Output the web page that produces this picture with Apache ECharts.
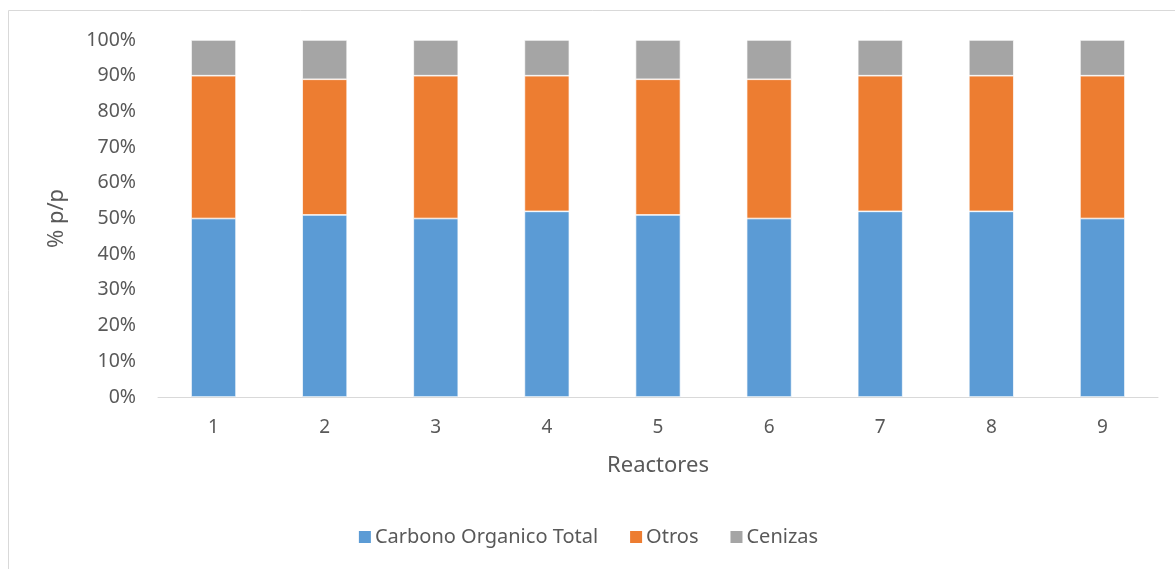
<!DOCTYPE html>
<html>
<head>
<meta charset="utf-8">
<script src="https://cdn.jsdelivr.net/npm/echarts@6/dist/echarts.min.js"></script>
<style>
html,body{margin:0;padding:0;background:#fff;}
#chart{width:1175px;height:569px;}
</style>
</head>
<body>
<div id="chart"></div>
<script>
const categories = ['1','2','3','4','5','6','7','8','9'];
const carbono = [50, 51, 50, 52, 51, 50, 52, 52, 50];
const otros = [40, 38, 40, 38, 38, 39, 38, 38, 40];
const cenizas = [10, 11, 10, 10, 11, 11, 10, 10, 10];
const seriesNames = ['Carbono Organico Total', 'Otros', 'Cenizas'];
const colors = ['#5b9bd5', '#ed7d31', '#a5a5a5'];

const FONT = 'Noto Sans';
const chart = echarts.init(document.getElementById('chart'));
const mk = (name, data, color) => ({
  name, type: 'bar', stack: 'total', data, barWidth: 45,
  itemStyle: { color, borderColor: '#ffffff', borderWidth: 0.7 },
  emphasis: { disabled: true }
});
chart.setOption({
  animation: false,
  textStyle: { fontFamily: FONT },
  graphic: [{
    type: 'rect', silent: true,
    shape: { x: 8.5, y: 10.5, width: 1300, height: 700 },
    style: { fill: 'none', stroke: '#d9d9d9', lineWidth: 1 }
  }],
  grid: { left: 158, right: 17, top: 40, bottom: 172 },
  legend: {
    bottom: 17, left: 'center', itemWidth: 14, itemHeight: 14, itemGap: 30,
    icon: 'rect',
    textStyle: { fontFamily: FONT, fontSize: 20, color: '#595959', padding: [0,0,0,-2] },
    data: seriesNames
  },
  xAxis: {
    type: 'category', data: categories,
    name: 'Reactores', nameLocation: 'middle', nameGap: 58,
    nameTextStyle: { fontFamily: FONT, fontSize: 22, color: '#595959' },
    axisLine: { lineStyle: { color: '#d9d9d9', width: 1 } },
    axisTick: { show: false },
    axisLabel: { fontFamily: FONT, fontSize: 19, color: '#595959', margin: 21 }
  },
  yAxis: {
    type: 'value', min: 0, max: 100, interval: 10,
    name: '% p/p', nameLocation: 'middle', nameGap: 90, nameRotate: 90,
    nameTextStyle: { fontFamily: FONT, fontSize: 22, color: '#595959' },
    axisLine: { show: false }, axisTick: { show: false },
    splitLine: { show: false },
    axisLabel: { fontFamily: FONT, fontSize: 19.5, color: '#595959', margin: 22, formatter: '{value}%' }
  },
  series: [
    mk(seriesNames[0], carbono, colors[0]),
    mk(seriesNames[1], otros, colors[1]),
    mk(seriesNames[2], cenizas, colors[2])
  ]
});
</script>
</body>
</html>
